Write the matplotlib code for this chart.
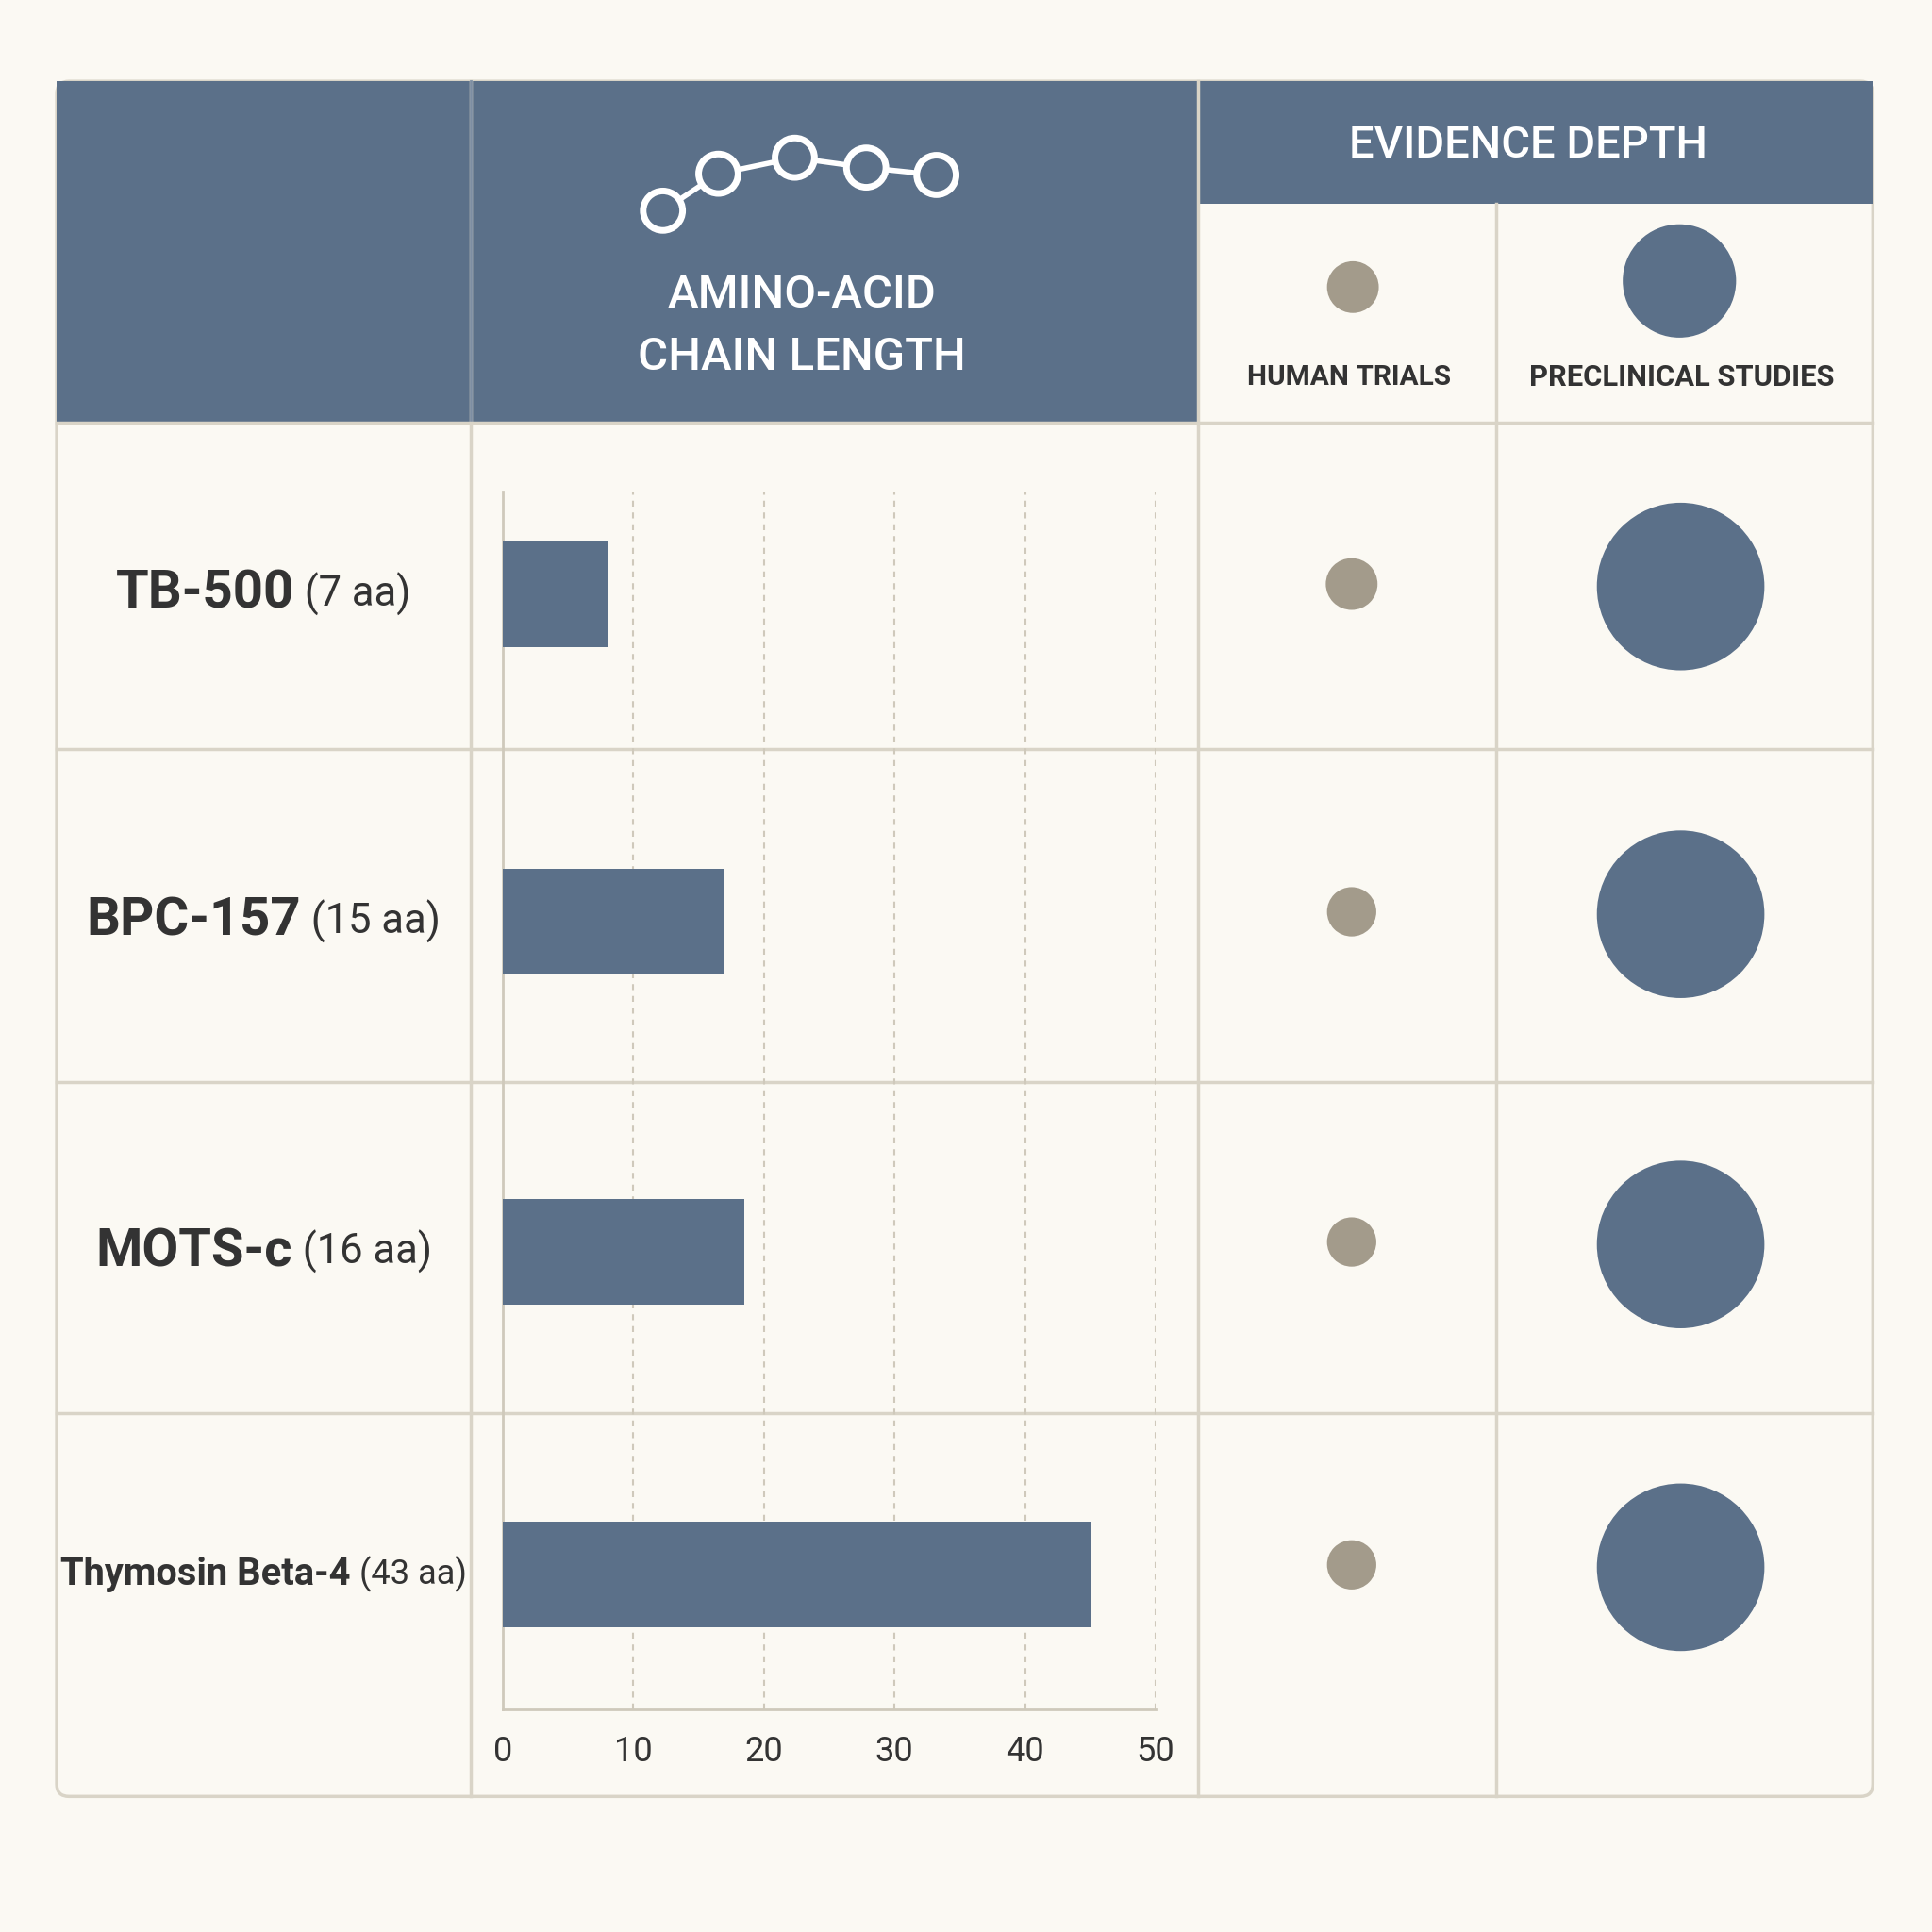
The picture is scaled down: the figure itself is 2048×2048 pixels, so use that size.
import matplotlib
matplotlib.use("Agg")
import matplotlib.pyplot as plt
from matplotlib.patches import Rectangle, Circle, FancyBboxPatch

# --------------------------------------------------
# Data
# --------------------------------------------------
peptides = ["TB-500", "BPC-157", "MOTS-c", "Thymosin Beta-4"]
suffixes = ["(7 aa)", "(15 aa)", "(16 aa)", "(43 aa)"]
bar_values = [8, 17, 18.5, 45]
human_size = [21, 20, 20, 20]
preclinical_size = [68, 68, 68, 68]
ticks = [0, 10, 20, 30, 40, 50]

BLUE = "#5b7089"
TAN = "#a39b8b"
BG = "#fbf9f3"
LINE = "#d9d4c7"
TXT = "#333333"
FONT = ["Liberation Sans Narrow", "Roboto", "DejaVu Sans"]

S = 1568.0  # reference pixel scale
def fs(cap):
    return cap * 2048 / S

fig = plt.figure(figsize=(20.48, 20.48), dpi=100, facecolor=BG)
ax = fig.add_axes([0, 0, 1, 1])
ax.set_xlim(0, S)
ax.set_ylim(S, 0)
ax.axis("off")

# --------------------------------------------------
# Table frame
# --------------------------------------------------
L, R, T, B = 46, 1520, 66, 1458
ax.add_patch(FancyBboxPatch((L, T), R - L, B - T, boxstyle="round,pad=0,rounding_size=10",
                            fc=BG, ec=LINE, lw=2.5, zorder=1))
ax.add_patch(Rectangle((L, T), 972 - L, 343 - T, fc=BLUE, ec="none", zorder=2))
ax.add_patch(Rectangle((972, T), R - 972, 165 - T, fc=BLUE, ec="none", zorder=2))

for x in [382, 972, 1214]:
    y0 = T if x != 1214 else 165
    ax.plot([x, x], [y0, B], color=LINE, lw=2.5, zorder=3)
ax.plot([382, 382], [T, 343], color="#7d8ea3", lw=2, zorder=3)
for y in [343, 608, 878, 1147]:
    ax.plot([L, R], [y, y], color=LINE, lw=2.5, zorder=3)

# header text
ax.text(651, 240, "AMINO-ACID", color="white", fontsize=fs(27), fontweight="medium",
        ha="center", va="center", family=FONT, zorder=4)
ax.text(651, 290, "CHAIN LENGTH", color="white", fontsize=fs(27), fontweight="medium",
        ha="center", va="center", family=FONT, zorder=4)
ax.text(1240, 118, "EVIDENCE DEPTH", color="white", fontsize=fs(26), fontweight="medium",
        ha="center", va="center", family=FONT, zorder=4)
ax.text(1095, 306, "HUMAN TRIALS", color=TXT, fontsize=fs(16.5), fontweight="bold",
        ha="center", va="center", family=FONT, zorder=4)
ax.text(1365, 306, "PRECLINICAL STUDIES", color=TXT, fontsize=fs(17), fontweight="bold",
        ha="center", va="center", family=FONT, zorder=4)
ax.add_patch(Circle((1098, 233), 21, fc=TAN, ec="none", zorder=4))
ax.add_patch(Circle((1363, 228), 46, fc=BLUE, ec="none", zorder=4))

# chain icon
chain = [(538, 171), (583, 141), (645, 128), (703, 136), (760, 142)]
xs, ys = zip(*chain)
ax.plot(xs, ys, color="white", lw=4, zorder=4)
for cx, cy in chain:
    ax.add_patch(Circle((cx, cy), 16, fc=BLUE, ec="white", lw=5, zorder=5))

# --------------------------------------------------
# Rows
# --------------------------------------------------
row_y = [482, 748, 1016, 1278]
fig.canvas.draw()
renderer = fig.canvas.get_renderer()
for i, (name, suf) in enumerate(zip(peptides, suffixes)):
    y = row_y[i]
    big = fs(31) if i < 3 else fs(22)
    small = fs(24) if i < 3 else fs(20)
    t1 = ax.text(0, y, name, fontsize=big, fontweight="bold", color=TXT,
                 family=FONT, ha="left", va="center", zorder=4)
    t2 = ax.text(0, y, " " + suf, fontsize=small, color=TXT,
                 family=FONT, ha="left", va="center", zorder=4)
    w1 = t1.get_window_extent(renderer).width * S / 2048
    w2 = t2.get_window_extent(renderer).width * S / 2048
    x0 = 214 - (w1 + w2) / 2
    t1.set_x(x0)
    t2.set_x(x0 + w1)
    ax.add_patch(Circle((1097, y - 8), human_size[i], fc=TAN, ec="none", zorder=4))
    ax.add_patch(Circle((1364, y - 6), preclinical_size[i], fc=BLUE, ec="none", zorder=4))

# --------------------------------------------------
# Bar chart
# --------------------------------------------------
bx0, bx1, by0, by1 = 408, 938, 400, 1387
bax = fig.add_axes([bx0 / S, 1 - by1 / S, (bx1 - bx0) / S, (by1 - by0) / S])
bax.set_facecolor("none")
bax.set_xlim(0, 50)
bax.set_ylim(by1, by0)
for t in ticks[1:]:
    bax.axvline(t, color="#cfc9bb", lw=1.5, ls=(0, (3, 3)))
bax.barh(row_y, bar_values, height=86, color=BLUE, zorder=3)
for s in ["top", "right"]:
    bax.spines[s].set_visible(False)
for s in ["left", "bottom"]:
    bax.spines[s].set_color("#cfc9bb")
    bax.spines[s].set_linewidth(2)
bax.set_yticks([])
bax.set_xticks(ticks)
bax.tick_params(axis="x", length=0, pad=20, labelsize=fs(20), labelcolor=TXT)
for lab in bax.get_xticklabels():
    lab.set_family(FONT)

fig.savefig("out.png", dpi=100, facecolor=BG)
